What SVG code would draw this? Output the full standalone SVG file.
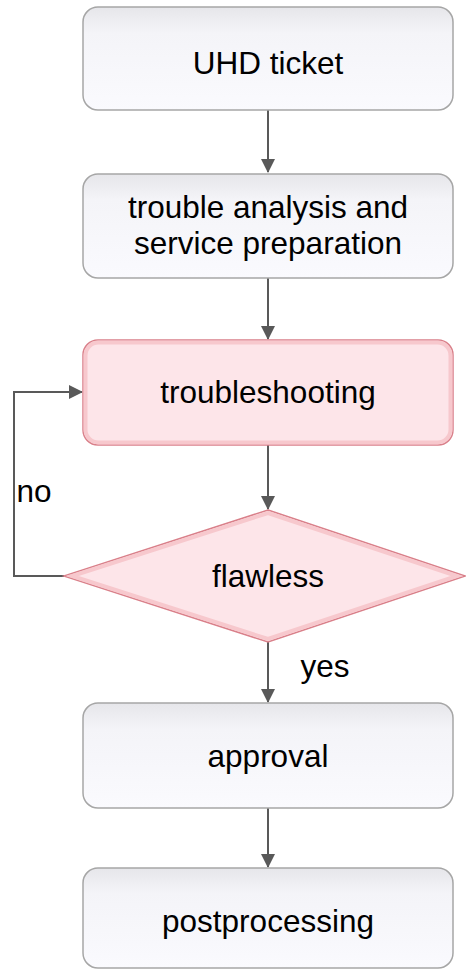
<svg xmlns="http://www.w3.org/2000/svg" width="466" height="971" viewBox="0 0 466 971">
<style>
.lbl{font-family:"Liberation Sans",Arial,sans-serif;font-size:31.5px;fill:#000;text-anchor:middle}
.edge{fill:none;stroke:#595959;stroke-width:2}
.gbox{fill:url(#gg);stroke:#a6a6a6;stroke-width:1.5}
.rbox{fill:#fde5e9;stroke:#d9808a;stroke-width:1.5}
.rin{fill:none;stroke:#f7c8cd;stroke-width:4}
</style>
<defs>
<linearGradient id="gg" x1="0" y1="0" x2="0" y2="1">
<stop offset="0" stop-color="#e6e6ea"/>
<stop offset="0.25" stop-color="#f4f4f8"/>
<stop offset="1" stop-color="#fafafe"/>
</linearGradient>
<marker id="arr" markerWidth="14" markerHeight="14" refX="13" refY="7" orient="auto" markerUnits="userSpaceOnUse">
<path d="M0,0 L14,7 L0,14 Z" fill="#595959"/>
</marker>
</defs>
<g id="connectors">
<line class="edge" x1="268" y1="110" x2="268" y2="172" marker-end="url(#arr)"/>
<line class="edge" x1="268" y1="278" x2="268" y2="339" marker-end="url(#arr)"/>
<line class="edge" x1="268" y1="445" x2="268" y2="509" marker-end="url(#arr)"/>
<line class="edge" x1="268" y1="642" x2="268" y2="702" marker-end="url(#arr)"/>
<line class="edge" x1="268" y1="808" x2="268" y2="867" marker-end="url(#arr)"/>
<polyline class="edge" points="64,576 14,576 14,392 82,392" marker-end="url(#arr)"/>
<text class="lbl" x="34" y="502">no</text>
<text class="lbl" x="325" y="677">yes</text>
</g>
<g id="n1">
<rect class="gbox" x="83" y="7" width="370" height="103" rx="15"/>
<text class="lbl" x="268" y="74">UHD ticket</text>
</g>
<g id="n2">
<rect class="gbox" x="83" y="174" width="370" height="104" rx="15"/>
<text class="lbl" x="268" y="218">trouble analysis and</text>
<text class="lbl" x="268" y="254">service preparation</text>
</g>
<g id="n3">
<rect class="rbox" x="83" y="340" width="370" height="105" rx="15"/>
<rect class="rin" x="85.5" y="342.5" width="365" height="100" rx="13"/>
<text class="lbl" x="268" y="403">troubleshooting</text>
</g>
<g id="n4">
<polygon class="rbox" points="268,510 465,576 268,642 64,576"/>
<polygon class="rin" points="268,513 457,576 268,639 72,576"/>
<text class="lbl" x="268" y="587">flawless</text>
</g>
<g id="n5">
<rect class="gbox" x="83" y="703" width="370" height="105" rx="15"/>
<text class="lbl" x="268" y="767">approval</text>
</g>
<g id="n6">
<rect class="gbox" x="83" y="868" width="370" height="100" rx="15"/>
<text class="lbl" x="268" y="932">postprocessing</text>
</g>
</svg>
